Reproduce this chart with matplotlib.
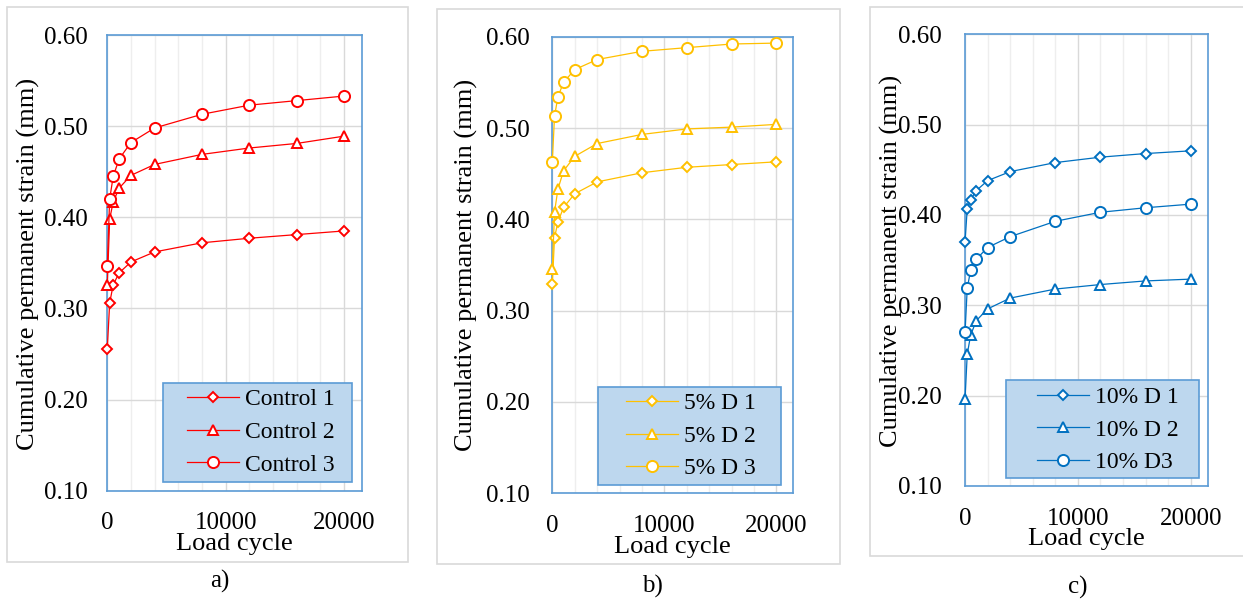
import matplotlib
matplotlib.use('Agg')
import matplotlib.pyplot as plt
from matplotlib.patches import Rectangle
from matplotlib.ticker import FixedLocator, FormatStrFormatter

plt.rcParams['font.family'] = ['Liberation Serif', 'DejaVu Serif']

# ---------------- data ----------------
cycles = [0, 200, 500, 1000, 2000, 4000, 8000, 12000, 16000, 20000]

control_labels = ['Control 1', 'Control 2', 'Control 3']
control_1 = [0.256, 0.306, 0.326, 0.339, 0.351, 0.362, 0.372, 0.377, 0.381, 0.385]
control_2 = [0.326, 0.398, 0.417, 0.432, 0.446, 0.458, 0.469, 0.476, 0.481, 0.489]
control_3 = [0.346, 0.420, 0.445, 0.464, 0.482, 0.498, 0.513, 0.523, 0.528, 0.533]

d5_labels = ['5% D 1', '5% D 2', '5% D 3']
d5_1 = [0.329, 0.380, 0.397, 0.413, 0.428, 0.441, 0.451, 0.457, 0.460, 0.463]
d5_2 = [0.346, 0.408, 0.433, 0.453, 0.469, 0.483, 0.493, 0.499, 0.501, 0.504]
d5_3 = [0.463, 0.513, 0.534, 0.550, 0.564, 0.575, 0.584, 0.588, 0.592, 0.593]

d10_labels = ['10% D 1', '10% D 2', '10% D3']
d10_1 = [0.370, 0.407, 0.417, 0.427, 0.438, 0.448, 0.458, 0.464, 0.468, 0.471]
d10_2 = [0.196, 0.246, 0.267, 0.283, 0.296, 0.308, 0.318, 0.323, 0.327, 0.329]
d10_3 = [0.270, 0.319, 0.339, 0.351, 0.364, 0.376, 0.393, 0.403, 0.408, 0.412]

x_ticks = [0, 10000, 20000]
x_minor = [2000, 4000, 6000, 8000, 12000, 14000, 16000, 18000]
y_ticks = [0.10, 0.20, 0.30, 0.40, 0.50, 0.60]
panel_letters = ['a)', 'b)', 'c)']
x_title = 'Load cycle'
y_title = 'Cumulative permanent strain (mm)'

# ---------------- layout / style ----------------
W, H = 1243, 604
fig = plt.figure(figsize=(W / 100, H / 100), dpi=100)


def fx(px):
    return px / W


def fy(py):
    return 1 - py / H


markers = [('D', 5.6), ('^', 7.8), ('o', 8.0)]

layouts = [
    dict(series=[control_1, control_2, control_3], labels=control_labels, color='#FF0000',
         ax=(107.3, 35.0, 361.7, 490.7), frame=(7.3, 7.3, 408.3, 561.7),
         leg_box=(162.7, 383.3, 351.7, 482.3), leg_left=187.0, leg_mid=432.3,
         ylab=(28.5, 264.0), xlab=(234.5, 544.0), letter=(220.0, 581.0), ypad=14.4),
    dict(series=[d5_1, d5_2, d5_3], labels=d5_labels, color='#FFC000',
         ax=(552.3, 36.7, 793.3, 493.3), frame=(436.7, 9.0, 840.0, 564.3),
         leg_box=(598.3, 386.7, 780.7, 485.0), leg_left=626.0, leg_mid=436.0,
         ylab=(466.7, 265.0), xlab=(672.8, 547.0), letter=(652.5, 586.0), ypad=16.0),
    dict(series=[d10_1, d10_2, d10_3], labels=d10_labels, color='#0070C0',
         ax=(965.0, 34.3, 1207.7, 486.0), frame=(870.0, 7.3, 1243.5, 556.0),
         leg_box=(1005.7, 380.0, 1199.3, 477.7), leg_left=1036.7, leg_mid=430.0,
         ylab=(891.7, 261.0), xlab=(1086.3, 539.0), letter=(1078.0, 587.0), ypad=16.8),
]

for i, L in enumerate(layouts):
    # outer panel frame
    l, t, r, b = L['frame']
    fig.add_artist(Rectangle((fx(l), fy(b)), (r - l) / W, (b - t) / H,
                             transform=fig.transFigure, fill=False,
                             edgecolor='#D9D9D9', lw=1.2))

    l, t, r, b = L['ax']
    ax = fig.add_axes([fx(l), fy(b), (r - l) / W, (b - t) / H])
    ax.set_xlim(0, 21500)
    ax.set_ylim(0.10, 0.60)
    ax.xaxis.set_major_locator(FixedLocator(x_ticks))
    ax.xaxis.set_minor_locator(FixedLocator(x_minor))
    ax.yaxis.set_major_locator(FixedLocator(y_ticks))
    ax.yaxis.set_major_formatter(FormatStrFormatter('%.2f'))
    ax.tick_params(which='both', length=0, labelsize=18)
    ax.tick_params(axis='x', pad=15.5)
    ax.tick_params(axis='y', pad=L['ypad'])
    ax.set_axisbelow(True)
    ax.grid(which='minor', axis='x', color='#EEEEEE', lw=1.0)
    ax.grid(which='major', color='#D9D9D9', lw=1.0)
    for sp in ax.spines.values():
        sp.set_color('#5B9BD5')
        sp.set_linewidth(1.2)
        sp.set_zorder(2)

    c = L['color']
    for vals, lab, (m, ms) in zip(L['series'], L['labels'], markers):
        ax.plot(cycles, vals, color=c, lw=0.9, marker=m, ms=ms, mfc='white',
                mec=c, mew=1.4, clip_on=False, zorder=3, label=lab)

    ax.set_ylabel(y_title, fontsize=19, va='center', ha='center')
    ax.yaxis.set_label_coords(fx(L['ylab'][0]), fy(L['ylab'][1]), transform=fig.transFigure)
    ax.set_xlabel(x_title, fontsize=19, va='center', ha='center')
    ax.xaxis.set_label_coords(fx(L['xlab'][0]), fy(L['xlab'][1]), transform=fig.transFigure)

    # legend box
    bl, bt, br, bb = L['leg_box']
    box = Rectangle((fx(bl), fy(bb)), (br - bl) / W, (bb - bt) / H,
                    transform=fig.transFigure, facecolor='#BDD7EE',
                    edgecolor='#5B9BD5', lw=1.2, zorder=5, clip_on=False)
    ax.add_patch(box)
    leg = ax.legend(loc='center left', bbox_to_anchor=(fx(L['leg_left']), fy(L['leg_mid'])),
                    bbox_transform=fig.transFigure, frameon=False, borderpad=0,
                    borderaxespad=0, handlelength=2.2, handletextpad=0.25,
                    labelspacing=0.47, fontsize=17, numpoints=1)
    leg.set_zorder(6)

    fig.text(fx(L['letter'][0]), fy(L['letter'][1]), panel_letters[i],
             ha='center', va='center', fontsize=18)

fig.savefig('out.png', dpi=100)
